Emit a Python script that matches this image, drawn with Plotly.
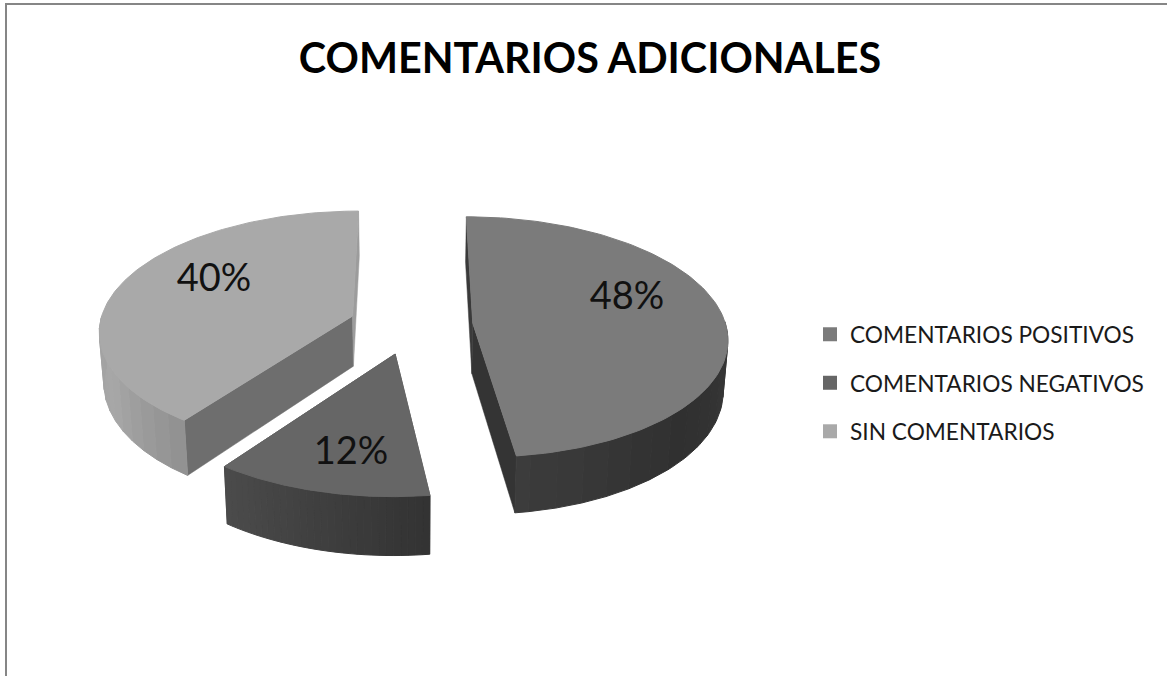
import numpy as np
import plotly.graph_objects as go

# ---- data ----
categories = ["COMENTARIOS POSITIVOS", "COMENTARIOS NEGATIVOS", "SIN COMENTARIOS"]
values = [48, 12, 40]
percent_labels = ["48%", "12%", "40%"]

# ---- styles ----
top_colors = ["#7b7b7b", "#666666", "#a9a9a9"]
start_wall = ["#3a3a3a", "#4a4a4a", "#6e6e6e"]
end_wall = ["#343434", "#3a3a3a", "#9c9c9c"]
# outer wall shade along the arc: start of visible part, middle, end
wall_shade = {
    0: (0x38, 0x30, 0x3c),
    1: (0x33, 0x3f, 0x4b),
    2: (0x92, 0xa8, 0xa2),
}
label_anchor = [(627, 299), (351, 454), (214, 281)]

# ---- projection of the 3D pie onto plot units ----
X0, Y0 = 411, 325
RX, RY = 253, 119
PERSP = 0.115
DEPTH = 50.5
BOTTOM_SHRINK = 0.985
EXPLODE = 0.245
STRIPS_STEP = 4


def project(wx, wv, bottom=False):
    s = 1 / (1 + PERSP * wv)
    if bottom:
        return X0 + RX * wx * s * BOTTOM_SHRINK, Y0 - RY * wv * s + DEPTH * s
    return X0 + RX * wx * s, Y0 - RY * wv * s


def hexcol(v):
    v = int(round(v))
    return f"rgb({v},{v},{v})"


fig = go.Figure()


def poly(xs, ys, color, lw=1):
    fig.add_trace(go.Scatter(
        x=xs, y=ys, mode="lines", fill="toself", fillcolor=color,
        line=dict(color=color, width=lw), hoverinfo="skip", showlegend=False))


total = sum(values)
edges = np.cumsum([0] + values) / total * 2 * np.pi
for order in [2, 0, 1]:
    a0, a1 = edges[order], edges[order + 1]
    mid = (a0 + a1) / 2
    ax, av = EXPLODE * np.sin(mid), EXPLODE * np.cos(mid)
    th = np.linspace(a0, a1, 121)
    wx, wv = ax + np.sin(th), av + np.cos(th)

    # cut walls
    for ang, col in ((a0, start_wall[order]), (a1, end_wall[order])):
        ex, ev = ax + np.sin(ang), av + np.cos(ang)
        p = [project(ax, av), project(ex, ev), project(ex, ev, True), project(ax, av, True)]
        poly([q[0] for q in p] + [p[0][0]], [q[1] for q in p] + [p[0][1]], col, 0.5)

    # outer wall, shaded in strips
    xt, yt = project(wx, wv)
    xb, yb = project(wx, wv, True)
    vis = np.where(np.cos(th) < 0.02)[0]
    i0, i1 = vis[0], vis[-1]
    lo, mi, hi = wall_shade[order]
    steps = list(range(i0, i1, STRIPS_STEP)) + [i1]
    for j in range(len(steps) - 1):
        i, k = steps[j], steps[j + 1]
        f = j / max(len(steps) - 2, 1)
        shade = lo + (mi - lo) * f * 2 if f < 0.5 else mi + (hi - mi) * (f - 0.5) * 2
        col = hexcol(shade)
        poly([*xt[i:k + 1], *xb[i:k + 1][::-1], xt[i]],
             [*yt[i:k + 1], *yb[i:k + 1][::-1], yt[i]], col)

    # top face
    cx, cy = project(ax, av)
    poly([cx, *xt, cx], [cy, *yt, cy], top_colors[order], 1)

# percent labels
fig.add_trace(go.Scatter(
    x=[p[0] for p in label_anchor], y=[p[1] for p in label_anchor],
    mode="text", text=percent_labels, textposition="middle center",
    textfont=dict(family="Lato", size=38, color="#111111"),
    hoverinfo="skip", showlegend=False))

# legend entries
for name, col in zip(categories, top_colors):
    fig.add_trace(go.Scatter(
        x=[None], y=[None], mode="markers", name=name, legendgroup=name,
        marker=dict(symbol="square", size=14, color=col)))

fig.update_layout(
    width=1167, height=676,
    margin=dict(l=0, r=0, t=0, b=0),
    paper_bgcolor="white", plot_bgcolor="white",
    title=dict(text="<b>COMENTARIOS ADICIONALES</b>", x=590 / 1167, xanchor="center",
               y=1 - 59 / 676, yanchor="middle",
               font=dict(family="Lato", size=41.3, color="#000000")),
    xaxis=dict(range=[0, 1167], visible=False, fixedrange=True),
    yaxis=dict(range=[676, 0], visible=False, fixedrange=True),
    showlegend=True,
    legend=dict(x=810 / 1167, y=1 - 383 / 676, xanchor="left", yanchor="middle",
                font=dict(family="Lato", size=22.7, color="#1a1a1a"),
                tracegroupgap=16, bgcolor="rgba(0,0,0,0)"),
    shapes=[
        dict(type="line", xref="paper", yref="paper", x0=5.5 / 1167, x1=1,
             y0=1 - 4 / 676, y1=1 - 4 / 676, line=dict(color="#868686", width=2)),
        dict(type="line", xref="paper", yref="paper", x0=6 / 1167, x1=6 / 1167,
             y0=0, y1=1 - 3 / 676, line=dict(color="#868686", width=2)),
    ],
)

fig.write_html("out.html", config={"displayModeBar": False},
               post_script="document.body.style.margin='0';")
